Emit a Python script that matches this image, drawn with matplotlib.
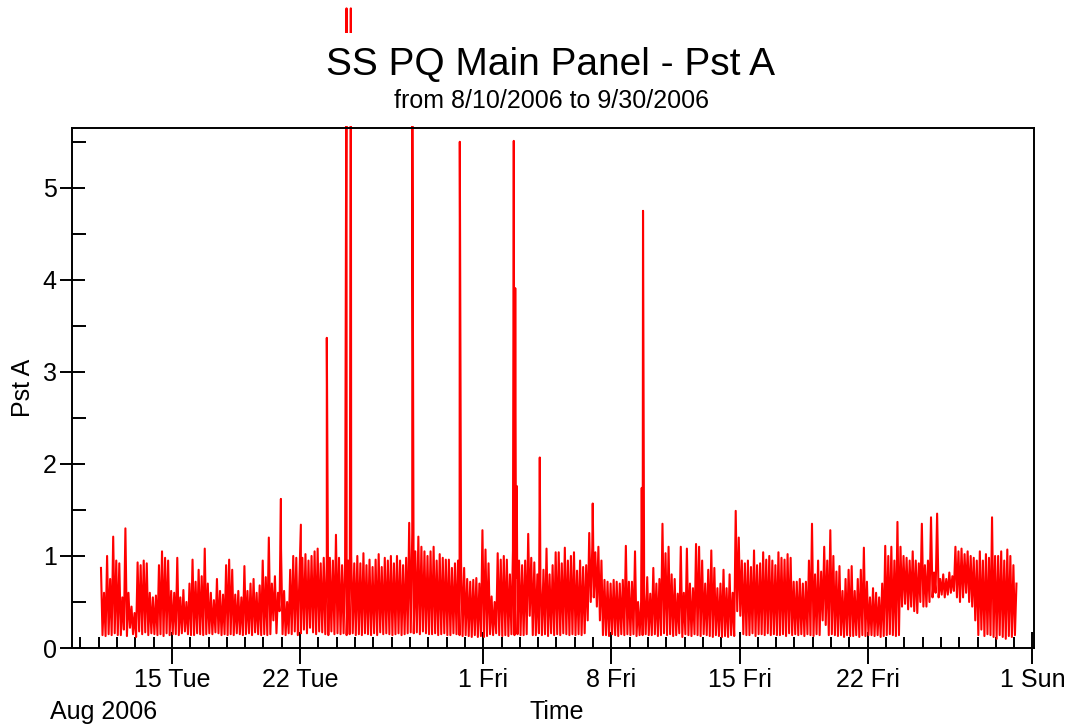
import numpy as np
import pandas as pd
import matplotlib
matplotlib.use('Agg')
import matplotlib.pyplot as plt
import matplotlib.dates as mdates
from matplotlib.patches import Rectangle
from matplotlib.ticker import MultipleLocator, FuncFormatter, FixedLocator

plt.rcParams['font.family'] = ['Liberation Sans', 'DejaVu Sans']

# Pst A x 100, 2-hourly from 11 Aug 03:00; one row per day,
# swinging between the upper and lower edge of the flicker band.
days_aug11 = [
    87, 14, 60, 13, 100, 15, 75, 14, 121, 16, 95, 14,
    92, 14, 55, 20, 130, 13, 60, 22, 45, 15, 38, 12,
    93, 18, 90, 15, 95, 17, 92, 14, 60, 16, 55, 15,
    57, 14, 90, 15, 105, 13, 98, 16, 95, 14, 62, 15,
    60, 15, 98, 14, 55, 16, 63, 18, 50, 15, 70, 14,
    96, 14, 72, 16, 85, 15, 78, 14, 108, 15, 70, 16,
    60, 15, 52, 17, 75, 16, 62, 14, 58, 15, 90, 14,
    96, 15, 85, 14, 58, 16, 62, 15, 55, 14, 89, 15,
    62, 16, 70, 14, 75, 17, 60, 15, 68, 14, 95, 15,
    77, 14, 120, 15, 70, 30, 78, 16, 60, 40, 108, 15,
]
days_aug21 = [
    62, 14, 50, 16, 85, 15, 100, 18, 98, 14, 72, 16,
    98, 20, 102, 16, 95, 22, 100, 17, 105, 15, 108, 18,
    92, 17, 98, 15, 95, 14, 98, 18, 95, 15, 123, 16,
    98, 15, 90, 16, 97, 14, 95, 15, 100, 16, 92, 14,
    100, 15, 92, 14, 103, 16, 90, 15, 96, 14, 88, 16,
    96, 14, 102, 17, 88, 15, 98, 16, 95, 15, 100, 14,
    92, 15, 100, 16, 95, 14, 90, 15, 98, 16, 136, 17,
    125, 16, 105, 17, 121, 15, 110, 18, 105, 16, 100, 15,
    105, 15, 110, 16, 95, 14, 102, 15, 98, 16, 96, 14,
    96, 14, 87, 16, 92, 15, 95, 14, 93, 13, 87, 14,
]
days_aug31 = [
    75, 13, 72, 12, 74, 14, 76, 12, 70, 13, 128, 12,
    107, 13, 92, 15, 56, 14, 50, 16, 103, 14, 96, 13,
    100, 14, 96, 13, 80, 15, 106, 14, 76, 15, 95, 14,
    90, 14, 95, 15, 124, 35, 98, 14, 93, 14, 80, 16,
    73, 14, 85, 15, 108, 13, 80, 16, 90, 14, 104, 15,
    104, 14, 92, 16, 109, 15, 95, 14, 100, 15, 104, 14,
    84, 15, 95, 14, 88, 16, 90, 30, 125, 50, 110, 55,
    104, 45, 110, 30, 95, 14, 74, 14, 72, 13, 70, 15,
    74, 14, 72, 13, 70, 15, 74, 14, 111, 15, 72, 14,
    72, 15, 105, 13, 50, 14, 50, 14, 60, 15, 77, 14,
]
days_sep10 = [
    59, 14, 87, 15, 70, 13, 75, 14, 135, 16, 103, 14,
    110, 15, 80, 13, 75, 14, 59, 16, 110, 12, 60, 15,
    108, 14, 70, 13, 65, 15, 113, 14, 110, 13, 95, 15,
    70, 14, 85, 13, 106, 12, 87, 14, 65, 13, 70, 12,
    85, 13, 65, 12, 80, 14, 60, 13, 149, 40, 120, 35,
    95, 15, 92, 14, 95, 14, 88, 16, 106, 13, 90, 15,
    92, 15, 104, 14, 96, 16, 100, 14, 95, 15, 90, 14,
    104, 14, 98, 15, 96, 13, 102, 16, 98, 14, 72, 15,
    72, 14, 75, 15, 70, 13, 72, 15, 95, 14, 135, 13,
    80, 15, 95, 14, 83, 30, 110, 25, 95, 14, 128, 15,
]
days_sep20 = [
    100, 14, 83, 13, 89, 14, 62, 12, 75, 14, 85, 13,
    89, 13, 62, 14, 75, 12, 85, 14, 109, 13, 72, 14,
    55, 14, 65, 13, 60, 14, 55, 12, 70, 13, 111, 14,
    100, 15, 110, 14, 95, 13, 137, 14, 110, 45, 100, 48,
    98, 42, 95, 45, 105, 40, 95, 38, 92, 50, 135, 45,
    90, 45, 95, 50, 142, 55, 82, 60, 146, 55, 75, 58,
    80, 55, 75, 58, 82, 60, 78, 62, 110, 55, 105, 50,
    108, 55, 102, 60, 105, 50, 100, 45, 98, 30, 95, 14,
    105, 20, 95, 13, 102, 15, 98, 14, 142, 12, 100, 10,
    100, 14, 105, 12, 95, 10, 107, 13, 100, 12, 90, 14,
    70,
]

# isolated flicker events
spike_times = [
    '2006-08-20 22:50', '2006-08-22 01:00', '2006-08-23 11:00',
    '2006-08-24 12:50', '2006-08-24 18:30', '2006-08-28 03:05',
    '2006-08-30 17:20', '2006-09-02 16:05', '2006-09-02 18:00',
    '2006-09-02 20:00', '2006-09-04 02:10', '2006-09-06 23:35',
    '2006-09-09 15:50', '2006-09-09 17:30',
]
spike_vals = [1.62, 1.34, 3.37, 6.95, 6.95, 6.00, 5.50, 5.51, 3.91, 1.76,
              2.07, 1.57, 1.74, 4.75]

major_days = ['2006-08-15', '2006-08-22', '2006-09-01', '2006-09-08',
              '2006-09-15', '2006-09-22', '2006-10-01']

vals = np.array(days_aug11 + days_aug21 + days_aug31 + days_sep10 + days_sep20) / 100.0
times = pd.Timestamp('2006-08-11 03:00') + pd.to_timedelta(np.arange(len(vals)) * 2, unit='h')
pst = pd.Series(vals, index=times)
pst = pd.concat([pst, pd.Series(spike_vals, index=pd.to_datetime(spike_times))]).sort_index()

W, H = 1070, 725
fig = plt.figure(figsize=(W / 100, H / 100), dpi=100)
ax = fig.add_axes([72 / W, 1 - 648 / H, 962 / W, 520 / H])

ax.plot(pst.index, pst.values, color='#ff0000', lw=1.5, clip_on=False, zorder=2)

ax.set_xlim(pd.Timestamp('2006-08-09 13:00'), pd.Timestamp('2006-10-01 02:00'))
ax.set_ylim(0, 5.65)

ax.yaxis.set_major_locator(MultipleLocator(1))
ax.yaxis.set_minor_locator(MultipleLocator(0.5))
ax.xaxis.set_major_locator(FixedLocator(mdates.date2num(pd.to_datetime(major_days))))
ax.xaxis.set_minor_locator(mdates.DayLocator())
ax.xaxis.set_major_formatter(FuncFormatter(
    lambda x, pos: '{} {}'.format(mdates.num2date(x).day, mdates.num2date(x).strftime('%a'))))

for sp in ax.spines.values():
    sp.set_linewidth(1.4)
ax.tick_params(axis='y', which='major', direction='inout', length=18, width=1.4,
               labelsize=18, pad=2)
ax.tick_params(axis='y', which='minor', direction='in', length=10, width=1.4)
ax.tick_params(axis='x', which='major', direction='inout', length=23, width=1.4,
               labelsize=18, pad=3)
ax.tick_params(axis='x', which='minor', direction='in', length=8, width=1.4)

ax.set_ylabel('Pst A', fontsize=18)
ax.yaxis.set_label_coords(-0.038, 0.5)
ax.set_xlabel('Time', fontsize=18)
ax.xaxis.set_label_coords(0.504, -0.100)
ax.xaxis.label.set_va('top')
fig.text(50 / W, 1 - 712 / H, 'Aug 2006', fontsize=18, ha='left', va='center')

# blank band behind the titles hides the overshooting spikes
fig.add_artist(Rectangle((0, 1 - 126 / H), 1, 93 / H, transform=fig.transFigure,
                         facecolor='white', edgecolor='none', zorder=5))
fig.text(551 / W, 1 - 65 / H, 'SS PQ Main Panel - Pst A', fontsize=28,
         ha='center', va='center', zorder=6)
fig.text(551 / W, 1 - 101 / H, 'from 8/10/2006 to 9/30/2006', fontsize=18,
         ha='center', va='center', zorder=6)

fig.savefig('out.png', dpi=100, facecolor='white')
